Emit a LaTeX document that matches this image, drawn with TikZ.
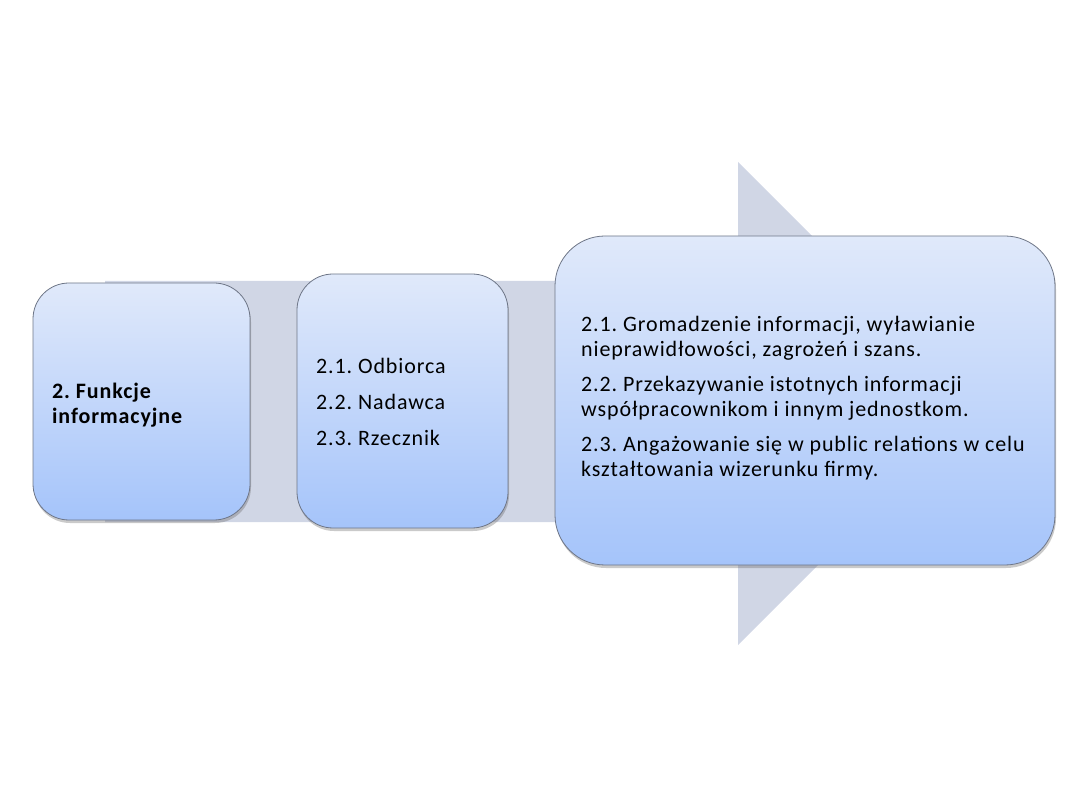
\documentclass[tikz,border=0pt]{standalone}
\usepackage{fontspec}
\setmainfont{Carlito}[LetterSpace=4]
\usetikzlibrary{shadows}
\definecolor{arrowfill}{RGB}{208,214,229}
\definecolor{boxtop}{RGB}{224,233,250}
\definecolor{boxbot}{RGB}{165,196,250}
\definecolor{boxline}{RGB}{110,118,135}
\tikzset{
  card/.style={draw=boxline, line width=0.8pt, top color=boxtop, bottom color=boxbot,
    inner sep=0pt,
    drop shadow={shadow xshift=1pt, shadow yshift=-3pt, opacity=0.35, fill=black!60}},
  label/.style={anchor=west, align=left, inner sep=0pt,
    font=\fontsize{22}{25}\selectfont\frenchspacing},
}
\begin{document}
\begin{tikzpicture}[x=1pt,y=-1pt]
\useasboundingbox (0,0) rectangle (1080,810);
% background arrow
\path[fill=arrowfill] (105,281) -- (738,281) -- (738,162) -- (980,403.5) -- (738,645) -- (738,522) -- (105,522) -- cycle;
% boxes
\node[card, rounded corners=36pt, minimum width=217pt, minimum height=237pt] (b1) at (141.5,401.5) {};
\node[card, rounded corners=36pt, minimum width=211pt, minimum height=254pt] (b2) at (402.5,401) {};
\node[card, rounded corners=50pt, minimum width=500pt, minimum height=329pt] (b3) at (805,400.5) {};
% texts
\node[label] (t1) at (52,405) {\textbf{2. Funkcje}\\\textbf{informacyjne}};
\node[label] (t2) at (316,402) {2.1. Odbiorca\\[11pt]2.2. Nadawca\\[11pt]2.3. Rzecznik};
\node[label] (t3) at (581,398) {2.1. Gromadzenie informacji, wyławianie\\nieprawidłowości, zagrożeń i szans.\\[10pt]2.2. Przekazywanie istotnych informacji\\współpracownikom i innym jednostkom.\\[10pt]2.3. Angażowanie się w public relations w celu\\kształtowania wizerunku firmy.};
\end{tikzpicture}
\end{document}
